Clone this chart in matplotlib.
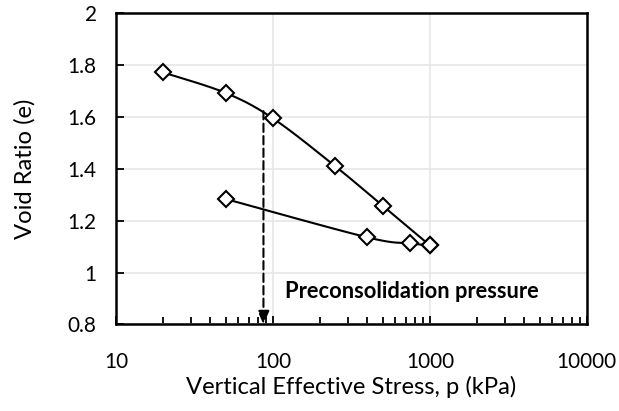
import numpy as np
from matplotlib import pyplot as plt
from matplotlib.ticker import LogLocator, NullFormatter, FixedLocator

# loading branch
load_p = [20, 50, 100, 250, 500, 1000]
load_e = [1.772, 1.693, 1.595, 1.41, 1.258, 1.105]
# unloading branch
unload_p = [1000, 750, 400, 50]
unload_e = [1.105, 1.113, 1.136, 1.284]

pc = 87
pc_e = 1.623
pc_label = 'Preconsolidation pressure'

x_ticks = [10, 100, 1000, 10000]
x_labels = ['10', '100', '1000', '10000']
y_ticks = [0.8, 1, 1.2, 1.4, 1.6, 1.8, 2]
y_labels = ['0.8', '1', '1.2', '1.4', '1.6', '1.8', '2']

plt.rcParams['font.family'] = ['Lato', 'DejaVu Sans']


def smooth(xs, ys, n=30):
	# excel-style smoothed line (bezier through points), done in log-x space
	x = np.log10(np.array(xs, dtype=float))
	y = np.array(ys, dtype=float)
	px = np.concatenate([[x[0]], x, [x[-1]]])
	py = np.concatenate([[y[0]], y, [y[-1]]])
	out_x, out_y = [], []
	t = np.linspace(0, 1, n)
	for i in range(len(x) - 1):
		p0 = np.array([px[i + 1], py[i + 1]])
		p3 = np.array([px[i + 2], py[i + 2]])
		p1 = p0 + (np.array([px[i + 2], py[i + 2]]) - np.array([px[i], py[i]])) / 6
		p2 = p3 - (np.array([px[i + 3], py[i + 3]]) - np.array([px[i + 1], py[i + 1]])) / 6
		b = ((1 - t) ** 3)[:, None] * p0 + (3 * (1 - t) ** 2 * t)[:, None] * p1 \
			+ (3 * (1 - t) * t ** 2)[:, None] * p2 + (t ** 3)[:, None] * p3
		out_x.extend(b[:, 0])
		out_y.extend(b[:, 1])
	return 10 ** np.array(out_x), np.array(out_y)


def fit(txt, size_px, use_height=False):
	# scale a text's font so its box gets the wanted pixel size
	r = fig.canvas.get_renderer()
	bb = txt.get_window_extent(r)
	cur = bb.height if use_height else bb.width
	return txt.get_fontsize() * size_px / cur


fig = plt.figure(figsize=(6.19, 4.11), dpi=100)
ax = fig.add_axes([0.1874, 0.2105, 0.7606, 0.757])

for xs, ys in [(load_p, load_e), (unload_p, unload_e)]:
	sx, sy = smooth(xs, ys)
	ax.plot(sx, sy, color='black', lw=1.5, zorder=3)
	ax.plot(xs, ys, ls='none', marker='D', ms=8.5, mfc='white', mec='black', mew=1.5, zorder=4)

ax.annotate('', xy=(pc, 0.8), xytext=(pc, pc_e),
	arrowprops=dict(arrowstyle='-|>,head_length=0.8,head_width=0.35', color='black', lw=1.5,
		linestyle=(0, (4, 2)), shrinkA=0, shrinkB=0), zorder=2)
note = ax.text(120, 0.927, pc_label, fontsize=12, fontweight='bold', va='center', ha='left')

ax.set_xscale('log')
ax.set_xlim(10, 10000)
ax.set_ylim(0.8, 2.0)
ax.xaxis.set_major_locator(FixedLocator(x_ticks))
ax.xaxis.set_minor_locator(LogLocator(base=10, subs=np.arange(2, 10)))
ax.xaxis.set_minor_formatter(NullFormatter())
ax.set_xticklabels(x_labels)
ax.set_yticks(y_ticks)
ax.set_yticklabels(y_labels)
ax.grid(True, which='major', color='#e6e6e6', lw=1.2, zorder=0)
ax.set_axisbelow(True)
ax.tick_params(which='both', direction='in', labelsize=12)
ax.tick_params(which='major', length=6, width=1.3)
ax.tick_params(which='minor', length=5, width=1.3)
for s in ax.spines.values():
	s.set_linewidth(1.8)
xl = ax.set_xlabel('Vertical Effective Stress, p (kPa)', fontsize=13, va='center')
yl = ax.set_ylabel('Void Ratio (e)', fontsize=13, va='center')

fig.canvas.draw()
tick_size = fit(ax.get_xticklabels()[-1], 60)
ax.tick_params(labelsize=tick_size)
ax.tick_params(axis='x', pad=20)
ax.tick_params(axis='y', pad=14)
xl.set_fontsize(fit(xl, 330))
yl.set_fontsize(fit(yl, 140, use_height=True))
note.set_fontsize(fit(note, 252))
ax.xaxis.set_label_coords(0.5, -0.2)
ax.yaxis.set_label_coords(-0.193, 0.5)

fig.savefig('out.png', dpi=100)
